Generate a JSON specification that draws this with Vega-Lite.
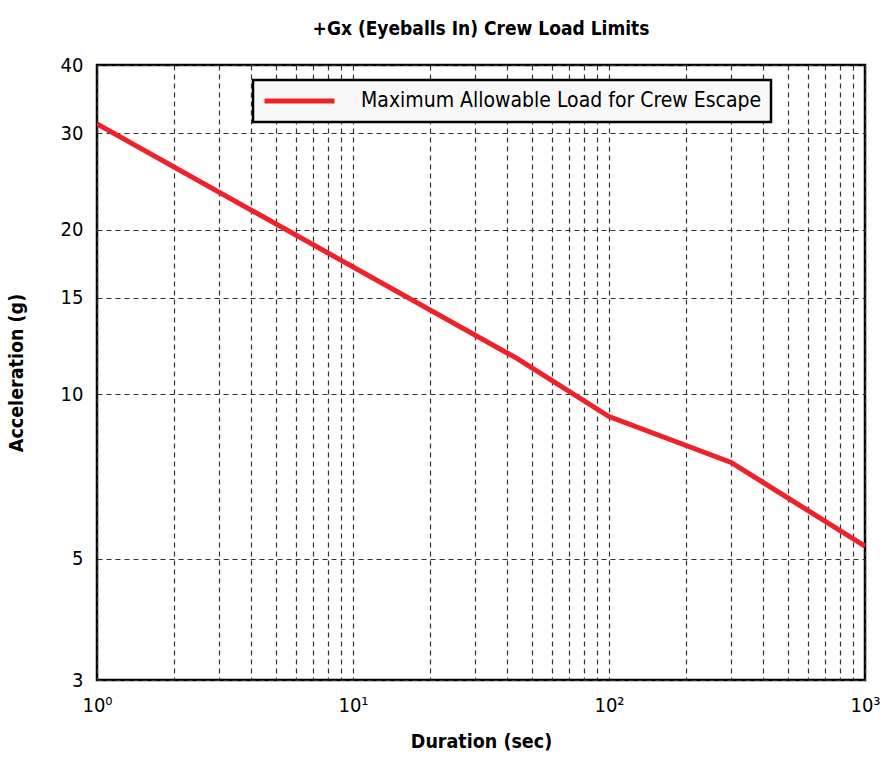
{
  "$schema": "https://vega.github.io/schema/vega-lite/v6.json",
  "autosize": {"type": "none"},
  "padding": {"left": 97, "top": 65, "right": 17, "bottom": 77},
  "width": 768,
  "height": 615,
  "background": "white",
  "title": {
    "text": "+Gx (Eyeballs In) Crew Load Limits",
    "font": "DejaVu Sans Condensed, Roboto, sans-serif",
    "fontSize": 19,
    "fontWeight": "bold",
    "anchor": "middle",
    "offset": 16,
    "color": "black"
  },
  "data": {
    "values": [
      {"duration": 1, "accel": 31.2, "series": "Maximum Allowable Load for Crew Escape"},
      {"duration": 44, "accel": 11.6, "series": "Maximum Allowable Load for Crew Escape"},
      {"duration": 100, "accel": 9.1, "series": "Maximum Allowable Load for Crew Escape"},
      {"duration": 300, "accel": 7.5, "series": "Maximum Allowable Load for Crew Escape"},
      {"duration": 1000, "accel": 5.27, "series": "Maximum Allowable Load for Crew Escape"}
    ]
  },
  "mark": {"type": "line", "strokeWidth": 5, "clip": true},
  "encoding": {
    "x": {
      "field": "duration",
      "type": "quantitative",
      "scale": {"type": "log", "domain": [1, 1000], "nice": false},
      "axis": {
        "title": "Duration (sec)",
        "values": [1,2,3,4,5,6,7,8,9,10,20,30,40,50,60,70,80,90,100,200,300,400,500,600,700,800,900,1000],
        "labelExpr": "datum.value == 1 ? '10⁰' : datum.value == 10 ? '10¹' : datum.value == 100 ? '10²' : datum.value == 1000 ? '10³' : ''",
        "labelOverlap": false,
        "labelBound": false,
        "labelFlush": false,
        "labelPadding": 15,
        "titlePadding": 17
      }
    },
    "y": {
      "field": "accel",
      "type": "quantitative",
      "scale": {"type": "log", "domain": [3, 40], "nice": false},
      "axis": {
        "title": "Acceleration (g)",
        "values": [3, 5, 10, 15, 20, 30, 40],
        "format": "d",
        "labelOverlap": false,
        "labelPadding": 14,
        "titlePadding": 34
      }
    },
    "color": {
      "field": "series",
      "type": "nominal",
      "scale": {"range": ["#ee2229"]},
      "legend": {
        "title": null,
        "orient": "none",
        "legendX": 156,
        "legendY": 15,
        "symbolType": "stroke",
        "symbolSize": 4900,
        "symbolStrokeWidth": 5,
        "clipHeight": 24,
        "labelOffset": 24,
        "labelFont": "DejaVu Sans Condensed, Roboto, sans-serif",
        "labelFontSize": 21,
        "labelColor": "black",
        "labelLimit": 600,
        "fillColor": "#f8f8f8",
        "strokeColor": "black",
        "padding": 9
      }
    }
  },
  "config": {
    "view": {"stroke": "black", "strokeWidth": 2.5},
    "legend": {"strokeWidth": 2.5},
    "axis": {
      "domain": false,
      "ticks": false,
      "grid": true,
      "gridColor": "#333333",
      "gridDash": [5, 4],
      "gridWidth": 1.2,
      "gridOpacity": 1,
      "labelFont": "DejaVu Sans Condensed, Roboto, sans-serif",
      "labelFontSize": 20,
      "labelColor": "black",
      "titleFont": "DejaVu Sans Condensed, Roboto, sans-serif",
      "titleFontSize": 19.5,
      "titleFontWeight": "bold",
      "titleColor": "black"
    }
  }
}
